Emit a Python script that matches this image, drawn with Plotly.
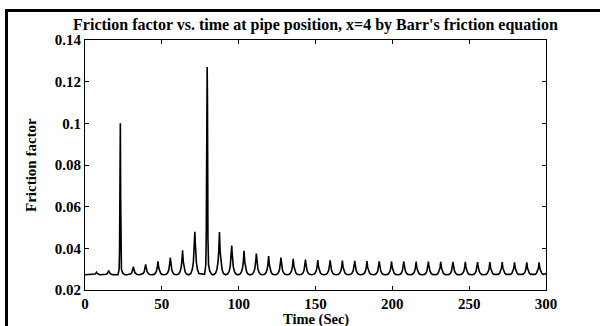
import plotly.graph_objects as go

# ---- data ----
period = 8.0
first_peak = 7.5
# regular (cusp) peaks, one every 8 s; None where a large spike occurs
peak_values = [0.0285, 0.0293, None, 0.0312, 0.0323, 0.0338, 0.0355, 0.0390,
               0.0480, None, 0.0478, 0.0413, 0.0388, 0.0375, 0.0363, 0.0356,
               0.0350, 0.0346, 0.0344, 0.0342, 0.0341, 0.0340, 0.0339, 0.0338,
               0.0337, 0.0337, 0.0336, 0.0336, 0.0335, 0.0335, 0.0335, 0.0334,
               0.0334, 0.0334, 0.0333, 0.0333, 0.0333]
baseline = 0.0273
# large spikes
spike1_t = [21.5, 22.2, 22.5, 22.8, 23.0, 23.2, 23.4, 23.7, 24.5, 26.0]
spike1_f = [0.0273, 0.0300, 0.0390, 0.0880, 0.1000, 0.0650, 0.0400, 0.0300, 0.0282, 0.0273]
spike2_t = [77.8, 78.6, 78.9, 79.3, 79.5, 79.7, 80.0, 80.4, 81.2, 82.5]
spike2_f = [0.0275, 0.0320, 0.0450, 0.1100, 0.1270, 0.1100, 0.0450, 0.0320, 0.0290, 0.0275]
# shape of one regular peak (offset in s, fraction of peak height)
shape_dt = [-4.0, -2.6, -1.7, -1.0, -0.5, -0.2, 0.0, 0.2, 0.5, 1.0, 1.7, 2.6]
shape_fr = [0.0, 0.03, 0.12, 0.28, 0.52, 0.78, 1.0, 0.78, 0.52, 0.28, 0.12, 0.03]

t_all, f_all = [0.0], [baseline]
for k, pv in enumerate(peak_values):
    tc = first_peak + k * period
    if pv is None:
        if tc < 50:
            t_all += spike1_t; f_all += spike1_f
        else:
            t_all += spike2_t; f_all += spike2_f
        continue
    for dt, fr in zip(shape_dt, shape_fr):
        t = tc + dt
        if t < 0 or t > 300:
            continue
        if t <= t_all[-1]:
            continue
        t_all.append(t)
        f_all.append(baseline + fr * (pv - baseline))
t_all.append(300.0); f_all.append(baseline + 0.1 * (peak_values[-1] - baseline))

fig = go.Figure()
fig.add_trace(go.Scatter(x=t_all, y=f_all, mode="lines",
                         line=dict(color="black", width=1.6), showlegend=False))

W, H = 600, 326
L, R, T, B = 85, 54, 40, 36
pw, ph = W - L - R, H - T - B

def px(x):
    return (x - L) / pw

def py(y):
    return (H - B - y) / ph

font = "Liberation Serif, Times New Roman, serif"
axis_common = dict(showline=True, linecolor="black", linewidth=1, mirror="ticks",
                   ticks="inside", ticklen=4, tickcolor="black", showgrid=False,
                   zeroline=False, tickfont=dict(family=font, size=15, color="black"))

fig.update_layout(
    width=W, height=H, margin=dict(l=L, r=R, t=T, b=B),
    paper_bgcolor="white", plot_bgcolor="white",
    title=dict(text="<b>Friction factor vs. time at pipe position, x=4 by Barr's friction equation</b>",
               x=0.5, xref="paper", xanchor="center", y=1 - 24 / H, yref="container",
               yanchor="middle", font=dict(family=font, size=16, color="black")),
    xaxis=dict(range=[0, 300], tickvals=[0, 50, 100, 150, 200, 250, 300],
               ticktext=["<b>0</b>", "<b>50</b>", "<b>100</b>", "<b>150</b>", "<b>200</b>", "<b>250</b>", "<b>300</b>"],
               **axis_common),
    yaxis=dict(range=[0.02, 0.14], tickvals=[0.02, 0.04, 0.06, 0.08, 0.1, 0.12, 0.14],
               ticktext=["<b>0.02</b>", "<b>0.04</b>", "<b>0.06</b>", "<b>0.08</b>", "<b>0.1</b>", "<b>0.12</b>", "<b>0.14</b>"],
               **axis_common),
    annotations=[
        dict(text="<b>Time (Sec)</b>", x=0.5, xref="paper", y=py(319), yref="paper",
             xanchor="center", yanchor="middle", showarrow=False,
             font=dict(family=font, size=14.5, color="black")),
        dict(text="<b>Friction factor</b>", x=px(31), xref="paper", y=0.5, yref="paper",
             xanchor="center", yanchor="middle", textangle=-90, showarrow=False,
             font=dict(family=font, size=15, color="black")),
    ],
    shapes=[
        dict(type="rect", xref="paper", yref="paper", x0=px(5), x1=px(8), y0=py(H + 2), y1=py(9),
             fillcolor="black", line=dict(width=0)),
        dict(type="rect", xref="paper", yref="paper", x0=px(5), x1=px(W + 2), y0=py(12), y1=py(9),
             fillcolor="black", line=dict(width=0)),
    ],
)

fig.write_html("out.html")
